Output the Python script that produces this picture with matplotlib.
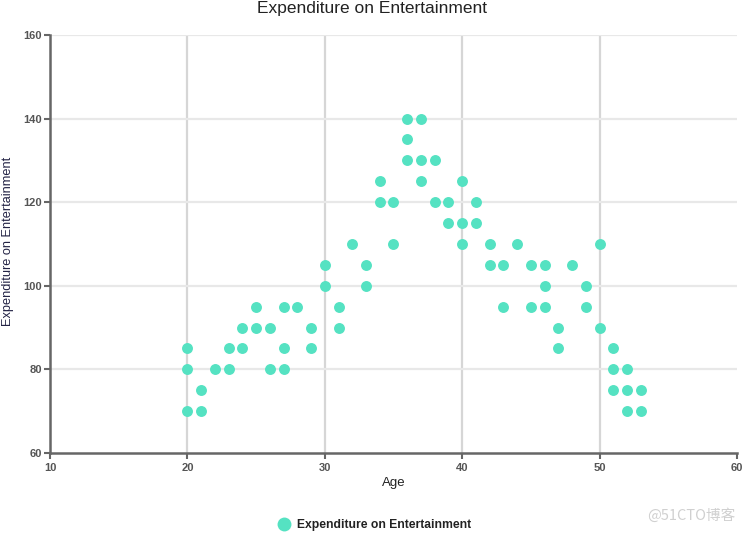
import matplotlib
matplotlib.use("Agg")
import matplotlib.pyplot as plt
from matplotlib.lines import Line2D

plt.rcParams['font.family'] = ['Liberation Sans', 'DejaVu Sans']

ages = [20, 20, 20, 21, 21, 22, 23, 23, 24, 24, 25, 25, 26, 26, 27, 27, 27, 28,
        29, 29, 30, 30, 31, 31, 32, 33, 33, 34, 34, 35, 35, 36, 36, 36, 37, 37, 37,
        38, 38, 39, 39, 40, 40, 40, 41, 41, 42, 42, 43, 43, 44, 45, 45, 46, 46, 46,
        47, 47, 48, 49, 49, 50, 50, 51, 51, 51, 52, 52, 52, 53, 53]
expenditure = [85, 80, 70, 75, 70, 80, 85, 80, 90, 85, 95, 90, 90, 80, 95, 85, 80, 95,
               90, 85, 105, 100, 95, 90, 110, 105, 100, 125, 120, 120, 110, 140, 135, 130, 140, 130, 125,
               130, 120, 120, 115, 125, 115, 110, 120, 115, 110, 105, 105, 95, 110, 105, 95, 105, 100, 95,
               90, 85, 105, 100, 95, 110, 90, 85, 80, 75, 80, 75, 70, 75, 70]
x_ticks = [10, 20, 30, 40, 50, 60]
y_ticks = [60, 80, 100, 120, 140, 160]
series_name = "Expenditure on Entertainment"

color = '#55e2c2'

fig = plt.figure(figsize=(7.44, 5.34), dpi=100)
ax = fig.add_axes([50/744, 81/534, 687/744, 418/534])

ax.scatter(ages, expenditure, s=62, color=color, zorder=3, linewidths=0)

ax.set_xlim(10, 60)
ax.set_ylim(60, 160)
ax.set_xticks(x_ticks)
ax.set_yticks(y_ticks)

for v in x_ticks[1:-1]:
    ax.axvline(v, color='#d6d6d6', lw=1.6, zorder=1)
for v in y_ticks[1:]:
    ax.axhline(v, color='#e8e8e8', lw=1.6, zorder=1)

for s in ['top', 'right']:
    ax.spines[s].set_visible(False)
for s in ['left', 'bottom']:
    ax.spines[s].set_color('#666666')
    ax.spines[s].set_linewidth(1.8)

ax.tick_params(axis='both', colors='#666666', length=4, width=1.5, labelsize=8)
for lab in ax.get_xticklabels() + ax.get_yticklabels():
    lab.set_fontweight('bold')
    lab.set_color('#555555')
ax.tick_params(axis='y', pad=2)
ax.tick_params(axis='x', pad=3)

ax.set_xlabel("Age", fontsize=9.5, color='#222222', labelpad=3)
fig.text(8/744, 1 - 241/534, series_name, rotation=90, fontsize=9.2,
         color='#222244', ha='center', va='center')

fig.text(372/744, 1 - 8/534, series_name, fontsize=12.5, color='#222222',
         ha='center', va='center')

handle = Line2D([], [], marker='o', linestyle='none', markersize=10,
                markerfacecolor=color, markeredgewidth=0)
leg = fig.legend([handle], [series_name], loc='center', bbox_to_anchor=(374/744, 1 - 525/534),
                 frameon=False, prop={'weight': 'bold', 'size': 8.7}, handletextpad=0.5,
                 handlelength=1.2)
for t in leg.get_texts():
    t.set_color('#222222')

fig.text(735/744, 1 - 516/534, "@51CTO博客", fontsize=10.5, color='#d0d0d0',
         ha='right', va='center', family=['Noto Sans CJK SC', 'DejaVu Sans'])

fig.savefig("out.png", dpi=100)
